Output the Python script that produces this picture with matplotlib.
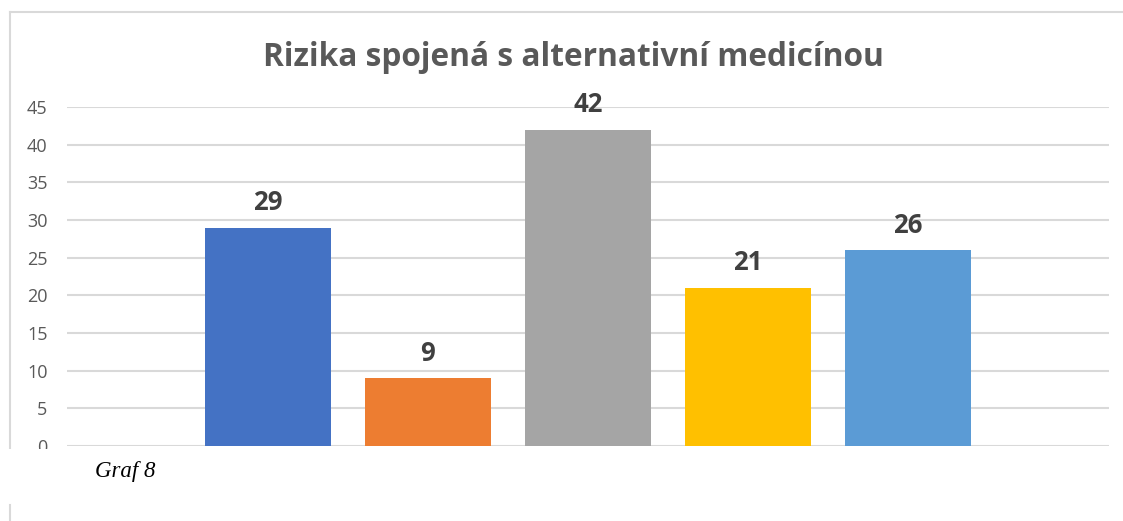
import matplotlib
matplotlib.use("Agg")
import matplotlib.pyplot as plt
from matplotlib.patches import Rectangle
from matplotlib.lines import Line2D

# data (no category labels are shown on the chart)
categories = ["1", "2", "3", "4", "5"]
values = [29, 9, 42, 21, 26]
colors = ["#4472C4", "#ED7D31", "#A5A5A5", "#FFC000", "#5B9BD5"]
y_ticks = [0, 5, 10, 15, 20, 25, 30, 35, 40, 45]

title = "Rizika spojená s alternativní medicínou"
caption = "Graf 8"

W, H = 1123, 521
fig = plt.figure(figsize=(W / 100, H / 100), dpi=100)

# plot area in pixels: x 67..1109, y 107 (=45) .. 446 (=0)
ax = fig.add_axes([67 / W, 1 - 446 / H, (1109 - 67) / W, (446 - 107) / H])
x = list(range(len(values)))
ax.bar(x, values, width=0.79, color=colors, zorder=3)
ax.set_xlim(-1.256, len(values) - 1 + 1.256)
ax.set_ylim(0, 45)
ax.set_yticks(y_ticks)
ax.set_xticks([])
ax.yaxis.grid(True, color="#d9d9d9", linewidth=1.5, zorder=0)
for s in ax.spines.values():
    s.set_visible(False)
ax.tick_params(axis="y", length=0, pad=14, labelsize=13, labelcolor="#595959")
for lab in ax.get_yticklabels():
    lab.set_fontfamily("Open Sans")

for xi, v in zip(x, values):
    ax.annotate(str(v), (xi, v), xytext=(0, 18), textcoords="offset points",
                ha="center", va="center", fontsize=18.5, fontweight="bold",
                color="#404040", fontfamily="Open Sans")

fig.text(573 / W, 1 - 57 / H, title, ha="center", va="center", fontsize=22.8,
         fontweight="bold", color="#595959", fontfamily="Open Sans")

# chart frame (top and left edge)
fig.add_artist(Line2D([10 / W, 1], [1 - 12 / H, 1 - 12 / H], color="#d9d9d9", lw=1.5))
fig.add_artist(Line2D([10 / W, 10 / W], [1 - 12 / H, 1 - 449 / H], color="#d9d9d9", lw=1.5))

# the chart is cut off below; white strip with caption
fig.add_artist(Rectangle((0, 0), 1, 1 - 449 / H, transform=fig.transFigure,
                         facecolor="white", edgecolor="none", zorder=10))
fig.add_artist(Line2D([10 / W, 10 / W], [1 - 505 / H, 0], color="#d9d9d9", lw=1.5, zorder=11))
fig.text(95 / W, 1 - 471 / H, caption, ha="left", va="center", fontsize=16.5,
         style="italic", fontfamily="Liberation Serif", color="black", zorder=12)

fig.savefig("out.png", dpi=100)
